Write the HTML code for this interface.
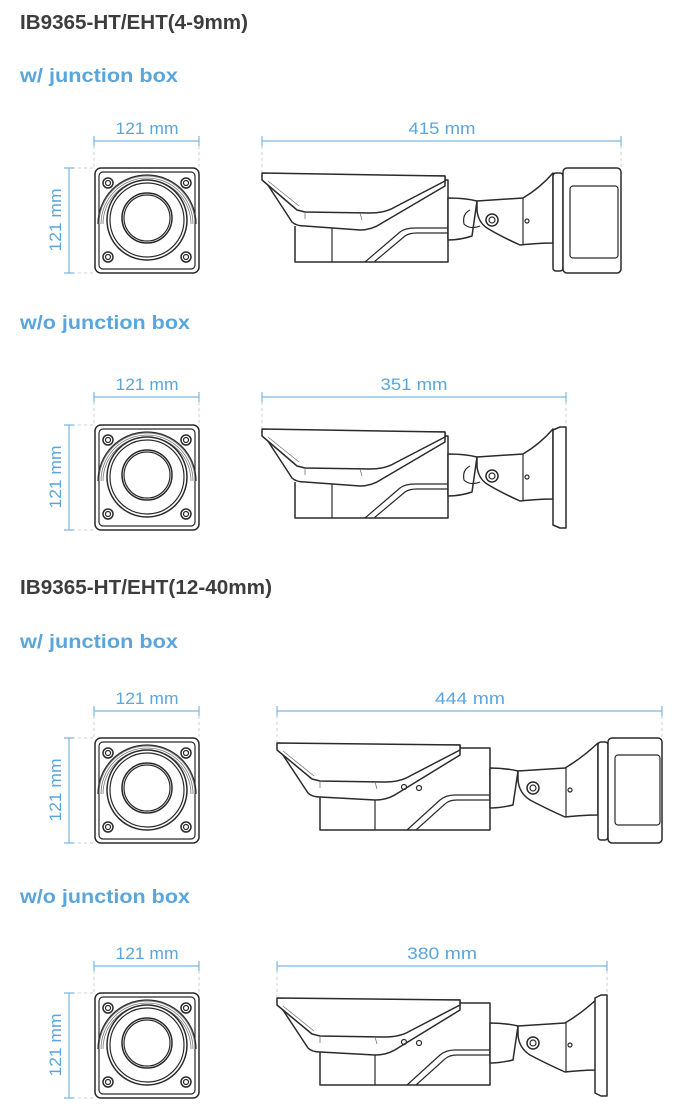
<!DOCTYPE html>
<html><head><meta charset="utf-8"><style>
html,body{margin:0;padding:0;background:#fff;}
svg{display:block;}
.t{font-family:"Liberation Sans",sans-serif;font-weight:bold;font-size:20px;fill:#3d3d3d;}
.s{font-family:"Liberation Sans",sans-serif;font-weight:bold;font-size:19.5px;fill:#5aa6dc;}
.d{font-family:"Liberation Sans",sans-serif;font-size:17px;fill:#5aa6dc;}
.dl{stroke:#7ab8e2;stroke-width:1.2;fill:none;}
.ex{stroke:#cfcfcf;stroke-width:1;stroke-dasharray:3 3;fill:none;}
.k{stroke:#2a2a2a;stroke-width:1.5;fill:#fff;stroke-linejoin:round;}
.kn{stroke:#2a2a2a;stroke-width:1.2;fill:none;}
.g{stroke:#777;stroke-width:0.8;fill:none;}
</style></head><body>
<svg width="680" height="1116" viewBox="0 0 680 1116" xmlns="http://www.w3.org/2000/svg">
<defs>
<g id="front">
  <rect class="k" x="95" y="0" width="104" height="105" rx="6"/>
  <rect class="kn" x="99" y="4" width="96" height="97" rx="4"/>
  <path class="g" d="M99,56 A48,48 0 0 1 195,56"/>
  <path class="g" d="M101,56 A46,46 0 0 1 193,56"/>
  <path class="g" d="M103,56 A44,44 0 0 1 191,56"/>
  <path class="kn" d="M98,56 A49,49 0 0 1 196,56"/>
  <circle class="k" cx="147" cy="52" r="40"/>
  <circle class="kn" cx="147" cy="52" r="37"/>
  <circle class="k" cx="147" cy="50" r="25"/>
  <circle class="kn" cx="147" cy="50" r="23"/>
  <g class="k">
    <circle cx="108" cy="15" r="5"/><circle cx="186" cy="15" r="5"/>
    <circle cx="108" cy="89" r="5"/><circle cx="186" cy="89" r="5"/>
  </g>
  <g class="kn">
    <circle cx="108" cy="15" r="2.5"/><circle cx="186" cy="15" r="2.5"/>
    <circle cx="108" cy="89" r="2.5"/><circle cx="186" cy="89" r="2.5"/>
  </g>
</g>
<g id="camA">
  <path class="k" d="M295,226 L295,262 L448,262 L448,180 L420,180"/>
  <line class="kn" x1="332" y1="226" x2="332" y2="262"/>
  <path class="kn" d="M365,262 L400,232 Q405,228 415,228 L448,228"/>
  <path class="kn" d="M374,262 L405,236 Q409,233 417,233 L448,233"/>
  <path class="k" d="M262,176 L292,222 Q296,226 305,226 L360,230 Q372,230 382,223 L445,186 L445,176 Z"/>
  <path class="k" d="M262,173 L445,176 L445,181 L395,207 Q385,213 370,213 L305,212 L297,210 L262,180 Z"/>
  <path class="g" d="M268,181 L299,206 M305,212 L305,219 M360,213 L362,220"/>
  <path class="k" d="M448,198 Q465,198 477,201 L472,236 Q460,240 448,240 Z"/>
  <path class="k" d="M477,201 L523,198 Q540,188 553,173 L553,243 Q540,243 520,245 Q500,236 487,228 Q478,222 477,210 Z"/>
  <path class="kn" d="M470,210 Q462,214 464,224 Q470,230 480,226"/>
  <line class="kn" x1="523" y1="198" x2="523" y2="245"/>
  <circle class="k" cx="492" cy="220" r="6"/><circle class="kn" cx="492" cy="220" r="3"/>
  <circle class="kn" cx="527" cy="221" r="2"/>
</g>
<g id="camB">
  <path class="k" d="M320,797 L320,830 L490,830 L490,748 L460,748"/>
  <line class="kn" x1="375" y1="797" x2="375" y2="830"/>
  <path class="kn" d="M407,830 L440,800 Q446,795 455,795 L490,795"/>
  <path class="kn" d="M416,830 L445,804 Q449,800 457,800 L490,800"/>
  <path class="k" d="M277,746 L308,793 Q312,797 320,797 L375,800 Q388,800 398,793 L460,755 L460,745 Z"/>
  <path class="k" d="M277,743 L460,745 L460,750 L410,776 Q400,782 385,782 L320,781 L312,779 L277,750 Z"/>
  <path class="g" d="M283,751 L314,776 M320,781 L320,788 M375,782 L377,789"/>
  <circle class="kn" cx="404" cy="787" r="2.5"/><circle class="kn" cx="419" cy="788" r="2.5"/>
  <path class="k" d="M490,768 Q505,768 518,771 L513,805 Q500,808 490,808 Z"/>
  <path class="k" d="M518,771 L565,768 Q582,758 598,743 L598,815 Q585,815 565,817 Q545,808 530,800 Q519,793 518,780 Z"/>
  <line class="kn" x1="566" y1="768" x2="566" y2="817"/>
  <circle class="k" cx="533" cy="788" r="6"/><circle class="kn" cx="533" cy="788" r="3"/>
  <circle class="kn" cx="570" cy="790" r="2"/>
</g>
</defs>

<text class="t" x="20" y="29" textLength="228" lengthAdjust="spacingAndGlyphs">IB9365-HT/EHT(4-9mm)</text>
<text class="s" x="20" y="82" textLength="158" lengthAdjust="spacingAndGlyphs">w/ junction box</text>
<use href="#front" y="168"/>
<text class="d" x="147" y="134" text-anchor="middle" textLength="63" lengthAdjust="spacingAndGlyphs">121 mm</text>
<path class="dl" d="M94,141 H199 M94,136 V146 M199,136 V146"/>
<path class="ex" d="M94,146 V168 M199,146 V168 M72,168 H95 M72,273 H95"/>
<path class="dl" d="M69,168 V273 M64,168 H74 M64,273 H74"/>
<text class="d" transform="translate(61,220) rotate(-90)" text-anchor="middle" textLength="63" lengthAdjust="spacingAndGlyphs">121 mm</text>
<text class="d" x="442" y="134" text-anchor="middle" textLength="67" lengthAdjust="spacingAndGlyphs">415 mm</text>
<path class="dl" d="M262,141 H621 M262,136 V146 M621,136 V146"/>
<path class="ex" d="M262,146 V172 M621,146 V168"/>
<use href="#camA"/>
<rect class="k" x="553" y="173" width="10" height="98" rx="3"/>
<rect class="k" x="563" y="168" width="58" height="105" rx="4"/>
<rect class="kn" x="570" y="186" width="48" height="72" rx="3"/>

<text class="s" x="20" y="329" textLength="170" lengthAdjust="spacingAndGlyphs">w/o junction box</text>
<use href="#front" y="425"/>
<text class="d" x="147" y="390" text-anchor="middle" textLength="63" lengthAdjust="spacingAndGlyphs">121 mm</text>
<path class="dl" d="M94,397 H199 M94,392 V402 M199,392 V402"/>
<path class="ex" d="M94,402 V425 M199,402 V425 M72,425 H95 M72,530 H95"/>
<path class="dl" d="M69,425 V530 M64,425 H74 M64,530 H74"/>
<text class="d" transform="translate(61,477) rotate(-90)" text-anchor="middle" textLength="63" lengthAdjust="spacingAndGlyphs">121 mm</text>
<text class="d" x="414" y="390" text-anchor="middle" textLength="67" lengthAdjust="spacingAndGlyphs">351 mm</text>
<path class="dl" d="M262,397 H566 M262,392 V402 M566,392 V402"/>
<path class="ex" d="M262,402 V428 M566,402 V427"/>
<use href="#camA" y="256"/>
<path class="k" d="M553,430 L560,427 L566,427 L566,528 L560,528 L553,525 Z"/>

<text class="t" x="20" y="594" textLength="252" lengthAdjust="spacingAndGlyphs">IB9365-HT/EHT(12-40mm)</text>
<text class="s" x="20" y="648" textLength="158" lengthAdjust="spacingAndGlyphs">w/ junction box</text>
<use href="#front" y="738"/>
<text class="d" x="147" y="704" text-anchor="middle" textLength="63" lengthAdjust="spacingAndGlyphs">121 mm</text>
<path class="dl" d="M94,711 H199 M94,706 V716 M199,706 V716"/>
<path class="ex" d="M94,716 V738 M199,716 V738 M72,738 H95 M72,843 H95"/>
<path class="dl" d="M69,738 V843 M64,738 H74 M64,843 H74"/>
<text class="d" transform="translate(61,790) rotate(-90)" text-anchor="middle" textLength="63" lengthAdjust="spacingAndGlyphs">121 mm</text>
<text class="d" x="470" y="704" text-anchor="middle" textLength="70" lengthAdjust="spacingAndGlyphs">444 mm</text>
<path class="dl" d="M277,711 H662 M277,706 V716 M662,706 V716"/>
<path class="ex" d="M277,716 V742 M662,716 V738"/>
<use href="#camB"/>
<rect class="k" x="598" y="742" width="10" height="98" rx="3"/>
<rect class="k" x="608" y="738" width="54" height="105" rx="4"/>
<rect class="kn" x="615" y="755" width="45" height="70" rx="3"/>

<text class="s" x="20" y="903" textLength="170" lengthAdjust="spacingAndGlyphs">w/o junction box</text>
<use href="#front" y="993"/>
<text class="d" x="147" y="959" text-anchor="middle" textLength="63" lengthAdjust="spacingAndGlyphs">121 mm</text>
<path class="dl" d="M94,966 H199 M94,961 V971 M199,961 V971"/>
<path class="ex" d="M94,971 V993 M199,971 V993 M72,993 H95 M72,1098 H95"/>
<path class="dl" d="M69,993 V1098 M64,993 H74 M64,1098 H74"/>
<text class="d" transform="translate(61,1045) rotate(-90)" text-anchor="middle" textLength="63" lengthAdjust="spacingAndGlyphs">121 mm</text>
<text class="d" x="442" y="959" text-anchor="middle" textLength="70" lengthAdjust="spacingAndGlyphs">380 mm</text>
<path class="dl" d="M277,966 H607 M277,961 V971 M607,961 V971"/>
<path class="ex" d="M277,971 V997 M607,971 V995"/>
<use href="#camB" y="255"/>
<path class="k" d="M595,998 L601,995 L607,995 L607,1096 L601,1096 L595,1093 Z"/>
</svg>
</body></html>
